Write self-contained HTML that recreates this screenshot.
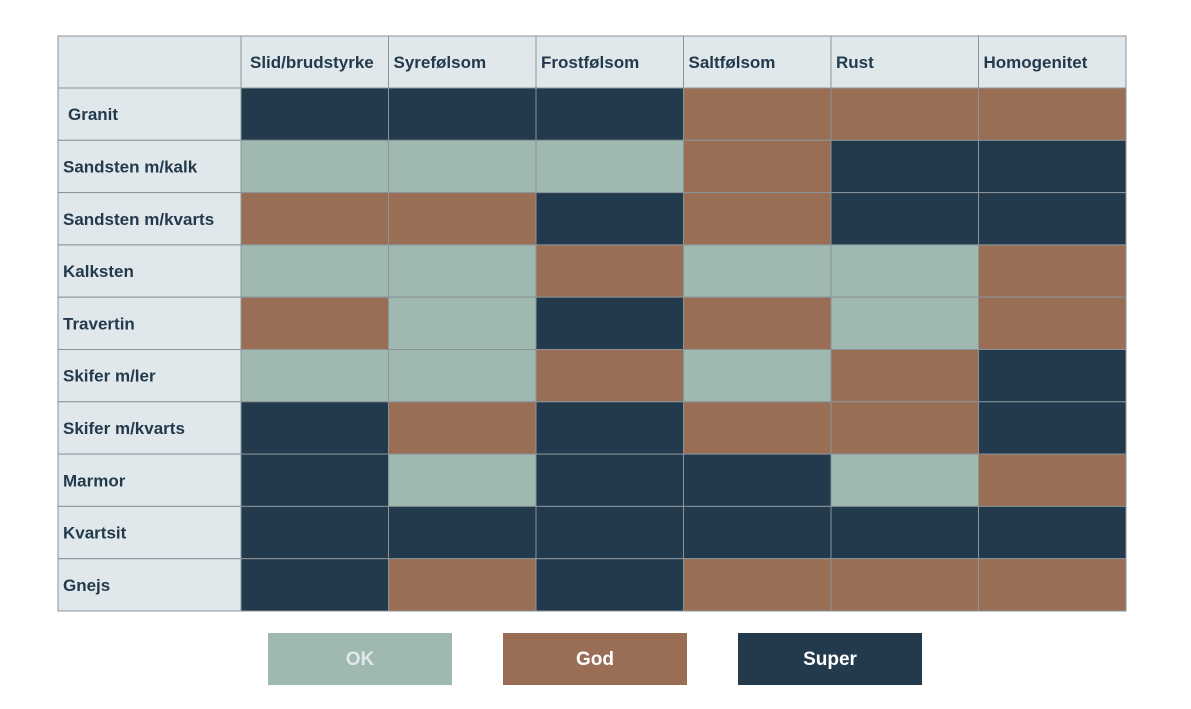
<!DOCTYPE html>
<html><head><meta charset="utf-8">
<style>
html,body{margin:0;padding:0;background:#fff;width:1191px;height:709px;overflow:hidden}
svg text{font-family:"Liberation Sans",Arial,sans-serif;font-weight:bold}
</style></head>
<body>
<svg id="chart" width="1191" height="709" xmlns="http://www.w3.org/2000/svg"></svg>
<script>
const columns = ["Slid/brudstyrke","Syrefølsom","Frostfølsom","Saltfølsom","Rust","Homogenitet"];
const rows = ["Granit","Sandsten m/kalk","Sandsten m/kvarts","Kalksten","Travertin","Skifer m/ler","Skifer m/kvarts","Marmor","Kvartsit","Gnejs"];
const levels = ["OK","God","Super"];
const values = [
 [2,2,2,1,1,1],
 [0,0,0,1,2,2],
 [1,1,2,1,2,2],
 [0,0,1,0,0,1],
 [1,0,2,1,0,1],
 [0,0,1,0,1,2],
 [2,1,2,1,1,2],
 [2,0,2,2,0,1],
 [2,2,2,2,2,2],
 [2,1,2,1,1,1]
];
const levelColors = ["#9fb8b0","#9a6e55","#233a4d"];
const NS = "http://www.w3.org/2000/svg";
const svgEl = document.getElementById("chart");
const gLeft = 58, labelW = 183, gTop = 36, headerH = 52, gRight = 1126, gBottom = 611;
const colW = (gRight - gLeft - labelW) / columns.length;
const rowH = (gBottom - gTop - headerH) / rows.length;
const xPos = i => gLeft + labelW + i * colW;
const yPos = j => gTop + headerH + j * rowH;
function mk(tag, attrs){const e=document.createElementNS(NS,tag);for(const k in attrs)e.setAttribute(k,attrs[k]);svgEl.appendChild(e);return e;}
const strokeCol="#8a9499";
const bg = mk("rect",{x:gLeft,y:gTop,width:gRight-gLeft,height:gBottom-gTop,fill:"#e1e8eb",stroke:strokeCol,"stroke-width":1});


columns.forEach((c,i)=>{
  const h = mk("rect",{x:xPos(i),y:gTop,width:colW,height:headerH,fill:"#e1e8eb",stroke:strokeCol,"stroke-width":1});
  
  
  const t = mk("text",{x:xPos(i)+(i===0?9:5),y:gTop+headerH/2+6,"font-size":17,fill:"#233a4d"});
  t.textContent=c;
  
  
});
rows.forEach((rw,j)=>{
  const h = mk("rect",{x:gLeft,y:yPos(j),width:labelW,height:rowH,fill:"#e1e8eb",stroke:strokeCol,"stroke-width":1});
  
  
  const t = mk("text",{x:gLeft+(j===0?10:5),y:yPos(j)+rowH/2+6,"font-size":17,fill:"#233a4d"});
  t.textContent=rw;
  
  
  values[j].forEach((v,i)=>{
    const c = mk("rect",{x:xPos(i),y:yPos(j),width:colW,height:rowH,fill:levelColors[v],stroke:strokeCol,"stroke-width":1});
    
    
  });
});
const legX=[268,503,738];
levels.forEach((l,k)=>{
  const b = mk("rect",{x:legX[k],y:633,width:184,height:52,fill:levelColors[k]});
  
  
  const t = mk("text",{x:legX[k]+92,y:665,"font-size":19,fill:k===0?"#e1e8eb":"#ffffff","text-anchor":"middle"});
  t.textContent=l;
  
  
});
</script>
</body></html>
